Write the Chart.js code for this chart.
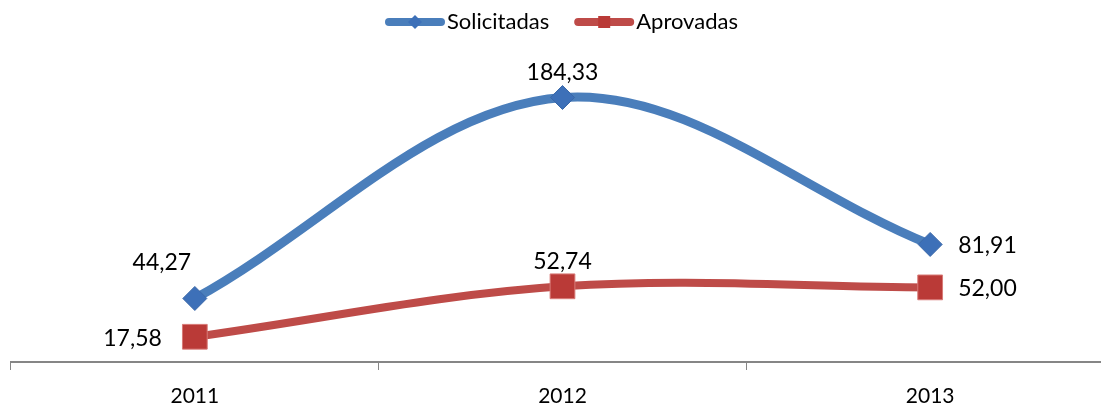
<!DOCTYPE html>
<html>
<head>
<meta charset="utf-8">
<script src="https://cdn.jsdelivr.net/npm/chart.js@4"></script>
<style>
  html, body { margin: 0; padding: 0; background: #fff; overflow: hidden; }
  #wrap { width: 1114px; height: 405px; position: relative; }
</style>
</head>
<body>
<div id="wrap"><canvas id="chart"></canvas></div>
<script>
// Data
const years = ['2011', '2012', '2013'];
const solicitadas = [44.27, 184.33, 81.91];
const aprovadas = [17.58, 52.74, 52.00];
// where each value label sits relative to its point
const solicitadasLabelPos = ['upleft', 'top', 'right'];
const aprovadasLabelPos = ['left', 'top', 'right'];

const BLUE = '#4A7EBB';
const RED = '#BE4B48';
const FONT = 'Lato';

const fmt = v => v.toFixed(2).replace('.', ',');

// value labels next to each point
const valueLabels = {
    id: 'valueLabels',
    afterDatasetsDraw(chart) {
        const ctx = chart.ctx;
        const positions = [solicitadasLabelPos, aprovadasLabelPos];
        ctx.save();
        ctx.font = '23px ' + FONT;
        ctx.fillStyle = '#000';
        ctx.textBaseline = 'middle';
        chart.data.datasets.forEach((ds, i) => {
            const meta = chart.getDatasetMeta(i);
            meta.data.forEach((pt, j) => {
                let x = pt.x, y = pt.y;
                ctx.textAlign = 'center';
                switch (positions[i][j]) {
                    case 'top': y -= 25; break;
                    case 'right': ctx.textAlign = 'left'; x += 28; y += 1; break;
                    case 'left': ctx.textAlign = 'right'; x -= 33; y += 2; break;
                    case 'upleft': x -= 33; y -= 36; break;
                }
                ctx.fillText(fmt(ds.data[j]), x, y);
            });
        });
        ctx.restore();
    }
};

// Excel-like legend: line with marker, then text
const lineLegend = {
    id: 'lineLegend',
    afterDraw(chart) {
        const ctx = chart.ctx;
        const y = 22;
        ctx.save();
        ctx.font = '22px ' + FONT;
        ctx.textBaseline = 'middle';
        ctx.textAlign = 'left';
        let x = 385;
        chart.data.datasets.forEach((ds, i) => {
            ctx.strokeStyle = ds.borderColor;
            ctx.lineWidth = 8;
            ctx.lineCap = 'round';
            ctx.beginPath();
            ctx.moveTo(x + 4, y);
            ctx.lineTo(x + 56, y);
            ctx.stroke();
            ctx.fillStyle = ds.pointBackgroundColor;
            ctx.beginPath();
            if (ds.pointStyle === 'rectRot') {
                ctx.moveTo(x + 30, y - 7);
                ctx.lineTo(x + 37, y);
                ctx.lineTo(x + 30, y + 7);
                ctx.lineTo(x + 23, y);
                ctx.closePath();
            } else {
                ctx.rect(x + 24, y - 6, 12, 12);
            }
            ctx.fill();
            ctx.fillStyle = '#000';
            ctx.fillText(ds.label, x + 62, y);
            x += 62 + ctx.measureText(ds.label).width + 25;
        });
        ctx.restore();
    }
};

const ctx = document.getElementById('chart').getContext('2d');
const chart = new Chart(ctx, {
    type: 'line',
    data: {
        labels: years,
        datasets: [
            {
                label: 'Solicitadas',
                data: solicitadas,
                borderColor: BLUE,
                borderWidth: 9,
                pointStyle: 'rectRot',
                pointRadius: 12,
                pointBackgroundColor: '#3D70B8',
                pointBorderColor: '#3A68A8',
                pointBorderWidth: 1,
                tension: 0.35,
                clip: false
            },
            {
                label: 'Aprovadas',
                data: aprovadas,
                borderColor: RED,
                borderWidth: 8,
                pointStyle: 'rect',
                pointRadius: 17.5,
                pointBackgroundColor: '#BA3A37',
                pointBorderColor: '#D87A77',
                pointBorderWidth: 1,
                tension: 0.35,
                clip: false
            }
        ]
    },
    options: {
        responsive: true,
        maintainAspectRatio: false,
        animation: false,
        events: [],
        layout: { autoPadding: false, padding: { top: 75, left: 11, right: 0, bottom: 0 } },
        plugins: {
            legend: { display: false },
            tooltip: { enabled: false }
        },
        scales: {
            y: { display: false, min: 0, max: 200 },
            x: {
                offset: true,
                grid: {
                    offset: true,
                    drawOnChartArea: false,
                    tickLength: 8,
                    color: '#868686',
                    lineWidth: 1
                },
                border: { display: true, color: '#868686', width: 2 },
                ticks: {
                    color: '#000',
                    padding: 14,
                    font: { family: FONT, size: 21 }
                },
                afterFit(scale) { scale.height = 43; }
            }
        }
    },
    plugins: [valueLabels, lineLegend]
});
</script>
</body>
</html>
